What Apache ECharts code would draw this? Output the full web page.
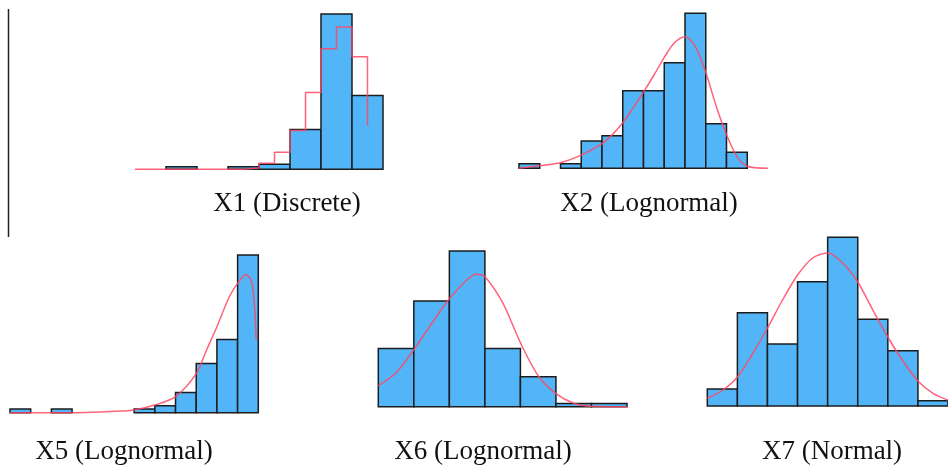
<!DOCTYPE html>
<html>
<head>
<meta charset="utf-8">
<script src="https://cdn.jsdelivr.net/npm/echarts@6/dist/echarts.min.js"></script>
<style>
html,body{margin:0;padding:0;background:#fff;}
#chart{width:948px;height:465px;}
</style>
</head>
<body>
<div id="chart"></div>
<script>
// ---- Data (heights in relative frequency units) ----
const titles = ['X1 (Discrete)', 'X2 (Lognormal)', 'X5 (Lognormal)', 'X6 (Lognormal)', 'X7 (Normal)'];

const x1Hist = [0, 2.6, 0, 2.6, 5, 40, 156, 74];
const x1StepX = [0, 3.5, 4, 4.5, 5, 5.5, 6, 6.5, 7, 7.5];
const x1StepY = [0, 1.3, 6, 17, 39, 77, 121, 143, 113, 44];

const x2Hist = [4.6, 0, 4.6, 27.6, 33, 78.3, 78.3, 106.6, 156.6, 45, 16.3];
const x2CurveX = [0, 1, 2, 3, 4, 4.5, 5, 5.5, 6, 6.5, 7, 7.5, 8, 8.5, 9, 9.5, 10, 10.5, 11, 12];
const x2CurveY = [0, 2.7, 5.7, 13.3, 25, 34, 46, 61, 77, 94, 112, 127, 133, 123, 97, 63, 34, 12, 2, 0];

const x5Hist = [3.7, 0, 3.7, 0, 0, 0, 3.7, 7, 20.3, 49.3, 73.3, 157.7];
const x5CurveX = [0, 3, 4, 5.4, 6, 7, 8, 9, 9.5, 10, 10.6, 11, 11.4, 11.7, 11.9];
const x5CurveY = [0, 0, 0.5, 1.7, 2.7, 7.7, 16, 39, 62.7, 86, 116, 129.3, 138.3, 129.3, 73.3];

const x6Hist = [58.3, 105.7, 155.7, 58.3, 30, 3.3, 3.3];
const x6CurveX = [0, 0.5, 1, 1.5, 2, 2.5, 2.75, 3, 3.5, 4, 4.5, 5, 5.5, 6, 7];
const x6CurveY = [21, 34, 57, 83, 108, 127, 132.5, 130, 104, 64, 31, 13, 3.5, 0.5, 0];

const x7Hist = [17, 93.3, 62, 124.3, 168.7, 86.7, 55.3, 5.3];
const x7CurveX = [0, 0.5, 1, 1.5, 2, 2.5, 3, 3.5, 4, 4.5, 5, 5.5, 6, 6.5, 7, 7.5, 8];
const x7CurveY = [7.7, 15.5, 29, 52, 78, 106, 131, 148, 153, 143, 124, 96, 69, 45, 25, 12.7, 6];

// ---- Layout ----
const Y_MAX = 170;
const panels = [
  {hist: x1Hist, cx: x1StepX, cy: x1StepY, nb: 8,  left: 135,   base: 169.3, width: 248,   step: true,  tx: 287, ty: 190.5},
  {hist: x2Hist, cx: x2CurveX, cy: x2CurveY, nb: 12, left: 519,   base: 168.3, width: 249,   step: false, tx: 649, ty: 190.5},
  {hist: x5Hist, cx: x5CurveX, cy: x5CurveY, nb: 12, left: 10,    base: 412.7, width: 248.3, step: false, tx: 124, ty: 438.5},
  {hist: x6Hist, cx: x6CurveX, cy: x6CurveY, nb: 7,  left: 378.3, base: 406.7, width: 248.7, step: false, tx: 483, ty: 438.5},
  {hist: x7Hist, cx: x7CurveX, cy: x7CurveY, nb: 8,  left: 707.3, base: 406,   width: 248,   step: false, tx: 832, ty: 438.5}
];

const BAR_FILL = '#52b5f8';
const BAR_STROKE = '#1c1c1c';
const RED = 'rgba(255,70,100,0.85)';

function renderBar(params, api) {
  const h = api.value(2);
  if (!h) return null;
  const p0 = api.coord([api.value(0), h]);
  const p1 = api.coord([api.value(1), 0]);
  return {
    type: 'rect',
    shape: {x: p0[0], y: p0[1], width: p1[0] - p0[0], height: p1[1] - p0[1]},
    style: {fill: BAR_FILL, stroke: BAR_STROKE, lineWidth: 1.5}
  };
}

const grid = [], xAxis = [], yAxis = [], series = [], graphic = [];
panels.forEach((p, i) => {
  grid.push({left: p.left, top: p.base - Y_MAX, width: p.width, height: Y_MAX, containLabel: false});
  xAxis.push({type: 'value', gridIndex: i, min: 0, max: p.nb, show: false});
  yAxis.push({type: 'value', gridIndex: i, min: 0, max: Y_MAX, show: false});
  series.push({
    type: 'custom', xAxisIndex: i, yAxisIndex: i,
    renderItem: renderBar,
    encode: {x: [0, 1], y: 2},
    data: p.hist.map((h, k) => [k, k + 1, h]),
    clip: false, silent: true
  });
  series.push({
    type: 'line', xAxisIndex: i, yAxisIndex: i,
    data: p.cx.map((x, k) => [x, p.cy[k]]),
    step: p.step ? 'end' : false,
    smooth: p.step ? false : 0.3,
    showSymbol: false, symbol: 'none',
    lineStyle: {color: RED, width: 1.5},
    clip: false, silent: true, z: 3
  });
  graphic.push({
    type: 'text', x: p.tx, y: p.ty,
    style: {text: titles[i], fill: '#111', font: '27px "Liberation Serif", "Times New Roman", serif',
            textAlign: 'center', textVerticalAlign: 'top'}
  });
});

graphic.push({
  type: 'line',
  shape: {x1: 8.5, y1: 9, x2: 8.5, y2: 237},
  style: {stroke: '#222', lineWidth: 1.5}
});

const chart = echarts.init(document.getElementById('chart'), null, {renderer: 'canvas'});
chart.setOption({
  animation: false,
  backgroundColor: '#fff',
  grid, xAxis, yAxis, series, graphic
});
</script>
</body>
</html>
